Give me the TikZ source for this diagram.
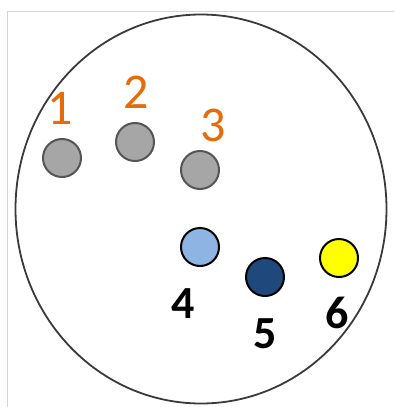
\documentclass[tikz,border=0pt]{standalone}
\usepackage{fontspec}
\setmainfont{Carlito}
\usepackage{xcolor}
\usepackage{tikz}
\usetikzlibrary{shapes.geometric}
\definecolor{rim}{HTML}{3A3A3A}
\definecolor{frame}{HTML}{D4D4D4}
\definecolor{stone}{HTML}{A6A6A6}
\definecolor{stoneline}{HTML}{555555}
\definecolor{skyb}{HTML}{8EB4E3}
\definecolor{navy}{HTML}{1F497D}
\definecolor{lemon}{HTML}{FFFF00}
\definecolor{tag}{HTML}{E46C0A}
\begin{document}
\begin{tikzpicture}[x=1pt,y=-1pt,
    spot/.style={circle,inner sep=0pt,minimum size=38pt,line width=2pt},
    greyspot/.style={spot,draw=stoneline,fill=stone},
    lab/.style={font=\fontsize{50}{50}\selectfont,inner sep=0pt}]
  \useasboundingbox (0,0) rectangle (394,407);
  % faint frame of the screenshot
  \draw[frame,line width=1pt] (7,407) -- (7,11) -- (394,11);
  % the dish
  \node[ellipse,draw=rim,line width=1.8pt,minimum width=371pt,minimum height=389pt,inner sep=0pt] (dish) at (201,209) {};
  % grey spots 1,2,3 with orange numbers above them
  \foreach \n/\x/\y/\lx/\ly in {1/62/158/60/108, 2/135/142/136/92, 3/200/170/213/125} {
    \node[greyspot] (s\n) at (\x,\y) {};
    \node[lab,text=tag] (t\n) at (\lx,\ly) {\n};
  }
  % coloured spots 4,5,6
  \node[spot,draw=black,fill=skyb] (s4) at (200,247) {};
  \node[spot,draw=black,fill=navy] (s5) at (265,277) {};
  \node[spot,draw=black,fill=lemon] (s6) at (339,258) {};
  \foreach \n/\lx/\ly in {4/183/304, 5/265/334, 6/337/313}
    \node[lab,font=\fontsize{46}{46}\selectfont\bfseries] (t\n) at (\lx,\ly) {\n};
\end{tikzpicture}
\end{document}
